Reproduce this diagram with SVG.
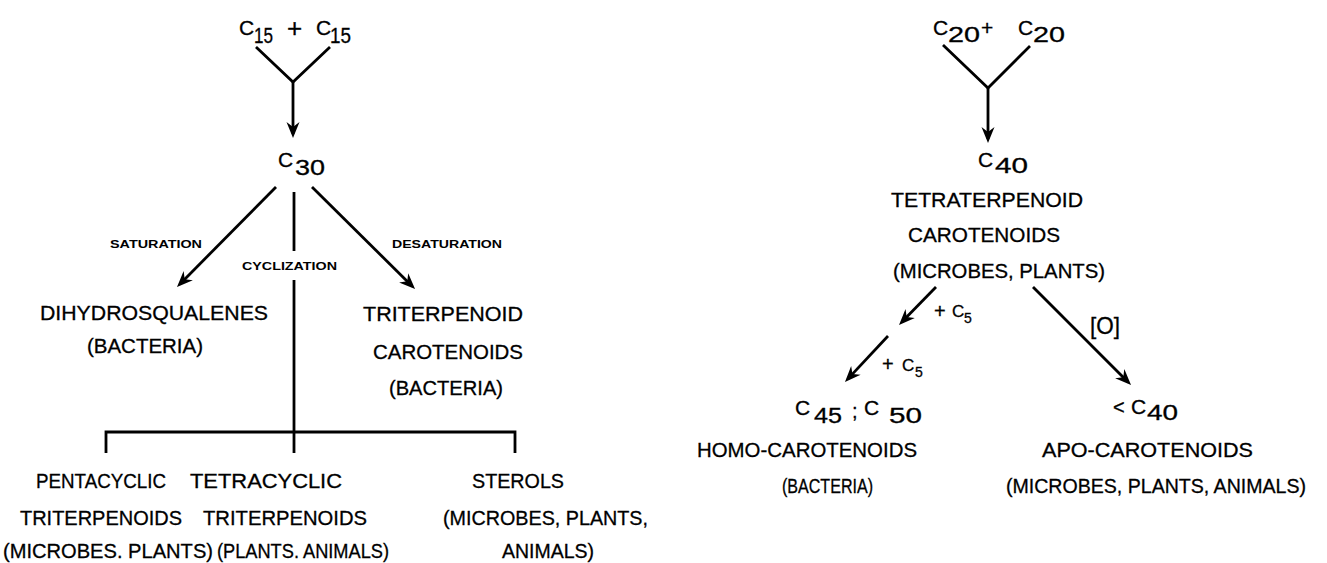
<svg xmlns="http://www.w3.org/2000/svg" width="1327" height="563" viewBox="0 0 1327 563">
<style>
text{font-family:"Liberation Sans",Arial,sans-serif;fill:#000;stroke:#000;stroke-width:0.3}
.t{font-size:21px}
.s{font-size:11.5px;font-weight:bold;stroke-width:0}
.c{font-size:21px}
.d{font-size:22px}
.p{font-size:26px}
.sm{font-size:17px}
.ss{font-size:14px}
.ln{stroke:#000;stroke-width:2.8;fill:none}
.ar{marker-end:url(#ah)}
</style>
<defs>
<marker id="ah" viewBox="-17 -7 19 14" refX="-4" refY="0" markerWidth="19" markerHeight="14" markerUnits="userSpaceOnUse" orient="auto">
<path d="M0,0 L-16,-6.5 L-11,0 L-16,6.5 Z" fill="#000"/>
</marker>
</defs>
<rect width="1327" height="563" fill="#fff"/>

<g id="connectors">
<polyline class="ln" points="256,47 293,82 330,47"/>
<line class="ln ar" x1="293" y1="82" x2="293" y2="134"/>
<line class="ln ar" x1="276" y1="187" x2="179.8" y2="284.2"/>
<line class="ln ar" x1="312" y1="187" x2="412.2" y2="286.2"/>
<line class="ln" x1="294" y1="192" x2="294" y2="251"/>
<line class="ln" x1="294" y1="280" x2="294" y2="453"/>
<polyline class="ln" points="106,453 106,432 515,432 515,453"/>
<polyline class="ln" points="943,45 988,88 1030,46"/>
<line class="ln ar" x1="988" y1="88" x2="988" y2="139"/>
<line class="ln ar" x1="936" y1="287" x2="901.8" y2="322.1"/>
<line class="ln ar" x1="888" y1="336" x2="847.7" y2="379.1"/>
<line class="ln ar" x1="1033" y1="287" x2="1128.2" y2="382.2"/>
</g>

<g id="edge-labels">
<text class="s" x="110" y="248" textLength="92" lengthAdjust="spacingAndGlyphs">SATURATION</text>
<text class="s" x="242" y="270" textLength="95" lengthAdjust="spacingAndGlyphs">CYCLIZATION</text>
<text class="s" x="392" y="248" textLength="110" lengthAdjust="spacingAndGlyphs">DESATURATION</text>
<text x="934" y="318"><tspan font-size="20">+</tspan><tspan class="sm" x="952" y="317">C</tspan><tspan class="ss" x="964" y="323">5</tspan></text>
<text x="882" y="371"><tspan font-size="20">+</tspan><tspan class="sm" x="902" y="371">C</tspan><tspan class="ss" x="915" y="377">5</tspan></text>
<text x="1090" y="334" font-size="24" textLength="30" lengthAdjust="spacingAndGlyphs">[O]</text>
</g>

<g id="node-c15">
<text x="239" y="35"><tspan class="c">C</tspan><tspan class="d" x="254" y="43" textLength="19" lengthAdjust="spacingAndGlyphs">15</tspan><tspan class="p" x="287" y="37">+</tspan><tspan class="c" x="316" y="35">C</tspan><tspan class="d" x="330" y="43" textLength="21" lengthAdjust="spacingAndGlyphs">15</tspan></text>
</g>
<g id="node-c30">
<text x="278" y="167"><tspan class="c">C</tspan><tspan class="d" x="295" y="175" textLength="30" lengthAdjust="spacingAndGlyphs">30</tspan></text>
</g>
<g id="node-dihydrosqualenes">
<text class="t" x="40" y="320" font-size="22" textLength="228" lengthAdjust="spacingAndGlyphs">DIHYDROSQUALENES</text>
<text class="t" x="87" y="353" textLength="116" lengthAdjust="spacingAndGlyphs">(BACTERIA)</text>
</g>
<g id="node-triterpenoid-carotenoids">
<text class="t" x="363" y="321" textLength="160" lengthAdjust="spacingAndGlyphs">TRITERPENOID</text>
<text class="t" x="373" y="359" textLength="150" lengthAdjust="spacingAndGlyphs">CAROTENOIDS</text>
<text class="t" x="389" y="395" textLength="114" lengthAdjust="spacingAndGlyphs">(BACTERIA)</text>
</g>
<g id="node-pentacyclic">
<text class="t" x="36" y="488" textLength="130" lengthAdjust="spacingAndGlyphs">PENTACYCLIC</text>
<text class="t" x="20" y="525" textLength="162" lengthAdjust="spacingAndGlyphs">TRITERPENOIDS</text>
<text class="t" x="3" y="558" textLength="210" lengthAdjust="spacingAndGlyphs">(MICROBES. PLANTS)</text>
</g>
<g id="node-tetracyclic">
<text class="t" x="190" y="488" textLength="152" lengthAdjust="spacingAndGlyphs">TETRACYCLIC</text>
<text class="t" x="203" y="525" textLength="164" lengthAdjust="spacingAndGlyphs">TRITERPENOIDS</text>
<text class="t" x="217" y="558" textLength="172" lengthAdjust="spacingAndGlyphs">(PLANTS. ANIMALS)</text>
</g>
<g id="node-sterols">
<text class="t" x="472" y="488" textLength="92" lengthAdjust="spacingAndGlyphs">STEROLS</text>
<text class="t" x="443" y="525" textLength="205" lengthAdjust="spacingAndGlyphs">(MICROBES, PLANTS,</text>
<text class="t" x="502" y="558" textLength="92" lengthAdjust="spacingAndGlyphs">ANIMALS)</text>
</g>

<g id="node-c20">
<text x="933" y="35"><tspan class="c">C</tspan><tspan class="d" x="948" y="42" textLength="32" lengthAdjust="spacingAndGlyphs">20</tspan><tspan class="c" x="981" y="35">+</tspan><tspan class="c" x="1018" y="35">C</tspan><tspan class="d" x="1033" y="42" textLength="32" lengthAdjust="spacingAndGlyphs">20</tspan></text>
</g>
<g id="node-c40">
<text x="978" y="167"><tspan class="c">C</tspan><tspan class="d" x="995" y="173" textLength="33" lengthAdjust="spacingAndGlyphs">40</tspan></text>
<text class="t" x="891" y="207" textLength="192" lengthAdjust="spacingAndGlyphs">TETRATERPENOID</text>
<text class="t" x="908" y="242" textLength="152" lengthAdjust="spacingAndGlyphs">CAROTENOIDS</text>
<text class="t" x="893" y="278" textLength="212" lengthAdjust="spacingAndGlyphs">(MICROBES, PLANTS)</text>
</g>
<g id="node-homo">
<text x="795" y="415"><tspan class="c">C</tspan><tspan class="d" x="814" y="423" textLength="28" lengthAdjust="spacingAndGlyphs">45</tspan><tspan font-size="20" x="852" y="418">;</tspan><tspan class="c" x="864" y="415">C</tspan><tspan class="d" x="889" y="423" textLength="33" lengthAdjust="spacingAndGlyphs">50</tspan></text>
<text class="t" x="697" y="457" font-size="20" textLength="220" lengthAdjust="spacingAndGlyphs">HOMO-CAROTENOIDS</text>
<text class="t" x="782" y="493" font-size="18" textLength="91" lengthAdjust="spacingAndGlyphs">(BACTERIA)</text>
</g>
<g id="node-apo">
<text x="1113" y="414"><tspan font-size="20">&lt;</tspan><tspan class="c" x="1131" y="414">C</tspan><tspan class="d" x="1147" y="420" textLength="31" lengthAdjust="spacingAndGlyphs">40</tspan></text>
<text class="t" x="1042" y="457" font-size="20" textLength="211" lengthAdjust="spacingAndGlyphs">APO-CAROTENOIDS</text>
<text class="t" x="1006" y="493" font-size="18" textLength="300" lengthAdjust="spacingAndGlyphs">(MICROBES, PLANTS, ANIMALS)</text>
</g>
</svg>
